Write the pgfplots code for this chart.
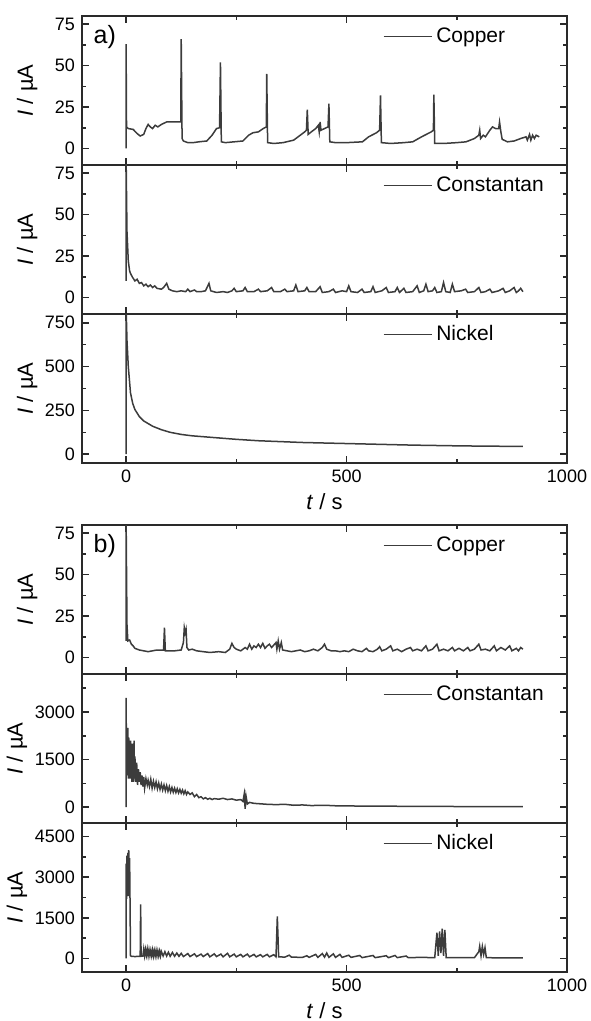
\documentclass[border=0pt]{standalone}
\usepackage{fontspec}
\setmainfont{Liberation Sans}
\usepackage{pgfplots}
\pgfplotsset{compat=1.18}

\definecolor{tracecol}{HTML}{3C3C3C}
\definecolor{framecol}{HTML}{2A2A2A}

\pgfplotsset{
  panel/.style={
    width=242.5pt, height=74.5pt, scale only axis,
    anchor=north west,
    xmin=-100, xmax=1000,
    xtick={0,500,1000}, minor xtick={250,750},
    xtick pos=both, ytick pos=both,
    xticklabel pos=lower, yticklabel pos=left,
    tick align=inside,
    major tick length=3.5pt, minor tick length=2pt,
    minor y tick num=1,
    axis line style={line width=0.9pt, framecol},
    every tick/.style={line width=0.8pt, framecol},
    tick label style={font=\fontsize{9}{10}\selectfont},
    /pgf/number format/assume math mode=true,
    /pgf/number format/1000 sep={},
    scaled ticks=false,
    ylabel={\textit{I} / µA},
    ylabel style={at={(axis description cs:-0.113,0.5)}, anchor=center,
      font=\fontsize{11}{13}\selectfont},
    xlabel style={at={(axis description cs:0.5,-0.262)}, anchor=center,
      font=\fontsize{11}{13}\selectfont},
    legend style={draw=none, fill=none, at={(0.62,0.86)}, anchor=west,
      inner sep=0pt, font=\fontsize{10.5}{12}\selectfont},
    legend image code/.code={\draw[#1, line width=0.6pt] (0pt,0pt) -- (24pt,0pt);},
  },
  inner/.style={xticklabels={}},
  lowest/.style={xlabel={\textit{t} / s}},
  widelabel/.style={ylabel style={at={(axis description cs:-0.134,0.5)}}},
  curve/.style={tracecol, line width=0.75pt, mark=none},
}

\begin{document}
\begin{tikzpicture}
\path[use as bounding box] (0pt,0pt) rectangle (295pt,-510.5pt);

% ---------- a) ----------
\begin{axis}[panel, inner, at={(41pt,-8pt)}, ymin=-10, ymax=80, ytick={0,25,50,75}]
\addplot[curve] coordinates {
(0,0)(0,63)(1,13)(5,12)(16,11.5)(25,9)(32,7.5)(40,8.5)(45,12)(50,14.5)(55,13)(60,12)
(66,14)(72,13)(80,14.5)(92,16)(110,16)(124,16)(125,66)(127,6)(130,4.5)(140,3.5)
(152,3.5)(165,4)(183,4.5)(195,8)(205,12)(212,12.5)(214,52)(216,4)(225,3.5)(245,4)
(265,4.5)(278,8)(288,9.5)(300,10)(311,12)(318,13)(319,45)(321,3.5)(335,3)(356,3.5)
(380,5)(395,8)(405,10)(409,11)(411,23.5)(413,8.5)(420,10)(430,12)(436,14)(438,10)
(440,16)(442,11)(450,12)(458,13)(460,27)(462,4)(475,3.5)(500,3.5)(536,4)(550,7)
(568,9.5)(575,11)(577,32)(579,3.5)(600,3)(630,3.5)(650,4)(670,7)(692,10)(697,11)
(698,32.5)(700,3)(720,3)(750,3.5)(771,4)(790,6)(800,8)(802,11)(804,6)(810,8)(815,7)
(825,11)(831,13)(838,12)(845,12)(847,16)(850,10)(853,5.5)(865,4)(880,4.5)(895,6)
(907,7)(910,5)(915,8.5)(918,5)(922,8)(926,6)(930,8)(937,7)
};
\addlegendentry{Copper}
\node[font=\fontsize{12.5}{14}\selectfont] at (rel axis cs:0.047,0.86) {a)};
\end{axis}

\begin{axis}[panel, inner, at={(41pt,-82.5pt)}, ymin=-10, ymax=80, ytick={0,25,50,75}]
\addplot[curve] coordinates {
(0,10)(0,85)(2,40)(5,22)(8,16)(10,14.5)(15,12)(20,10)(25,11)(30,8.5)(35,9)(40,7)
(45,8)(50,6.5)(55,7.5)(60,6)(65,7)(70,5.5)(80,5)(85,6)(92,8.5)(97,5)(105,4)(115,3.5)
(125,4)(135,3.5)(140,5)(145,3.5)(155,4.5)(160,3.5)(170,3.5)(180,4)(188,8.5)(192,4)
(205,3)(220,3.5)(230,3)(240,4)(245,5.5)(250,3.5)(265,4)(270,6)(275,3.5)(290,3.5)
(300,5)(305,3.5)(320,4)(330,6)(335,3.5)(350,3.5)(360,5)(365,3.5)(380,4)(385,7.5)
(390,3.5)(405,4)(410,6)(415,3.5)(430,3.5)(440,6.5)(445,3)(460,3.5)(470,5)(475,3)
(490,4)(500,3.5)(505,7)(510,3.5)(525,3)(535,5)(540,3)(555,3.5)(560,6.5)(565,3)
(580,4)(590,6)(595,3)(610,3.5)(615,6)(620,3)(630,5.5)(635,3)(650,3.5)(660,7)(665,3)
(675,4)(680,8)(685,3.5)(695,4)(700,6)(705,3)(715,3.5)(720,9)(725,3.5)(735,3)(740,8)
(745,3.5)(760,4)(770,5)(775,3)(790,3.5)(800,6)(805,3)(815,3.5)(825,5)(830,3)(845,4)
(855,5.5)(860,3)(870,4)(880,6)(885,3)(890,4)(895,5.5)(900,3.5)
};
\addlegendentry{Constantan}
\end{axis}

\begin{axis}[panel, lowest, at={(41pt,-157pt)}, ymin=-50, ymax=800, ytick={0,250,500,750}]
\addplot[curve] coordinates {
(0,0)(0,840)(2,650)(5,500)(10,350)(15,290)(20,255)(30,215)(40,190)(60,160)(80,140)
(100,125)(125,113)(150,105)(200,95)(250,85)(300,77)(350,72)(400,67)(450,64)(500,61)
(550,58)(600,55)(650,52)(700,50)(750,48)(800,46.5)(850,45.5)(900,45)
};
\addlegendentry{Nickel}
\end{axis}

% ---------- b) ----------
\begin{axis}[panel, inner, at={(41pt,-262.5pt)}, ymin=-10, ymax=80, ytick={0,25,50,75}]
\addplot[curve] coordinates {
(0,10)(0,85)(2,20)(4,10)(8,10.5)(12,8)(16,7)(20,5.5)(30,4.5)(40,4)(50,3.5)(60,4)
(70,4.5)(80,4.5)(85,4.5)(87,18)(89,4)(100,4)(110,4)(125,4.5)(130,9)(132,18)(134,15)
(136,17)(138,6)(142,4.5)(150,5)(160,4)(175,3.5)(190,3)(210,3.5)(225,3)(235,5)(240,8.5)
(245,6)(250,5)(260,4)(270,6)(275,5)(280,8)(285,5)(290,7)(295,6)(300,8)(305,6)(310,8.5)
(315,5.5)(320,7)(325,8)(330,6)(335,7.5)(340,9)(342,5)(345,10)(348,5)(352,9)(355,4.5)
(365,4)(375,3.5)(385,4)(395,4.5)(405,3.5)(415,4)(425,5)(435,4)(445,6)(450,8)(455,5)
(465,4)(475,4)(485,3.5)(495,4)(505,3.5)(515,5)(525,4)(535,3.5)(545,5.5)(550,4)
(560,3.5)(570,5)(575,6.5)(580,4)(590,5)(600,7)(605,4)(615,5)(625,3.5)(635,5)(645,6)
(650,4)(660,5)(670,4)(680,7)(685,4)(695,5)(705,8)(710,4)(720,5)(730,4)(740,6)(745,4)
(755,5.5)(765,4)(775,6)(780,4)(790,5)(800,8)(805,4.5)(815,5)(825,4)(835,7)(840,4)
(850,6)(860,4.5)(870,7)(875,4)(885,5.5)(890,4)(895,6)(900,5)
};
\addlegendentry{Copper}
\node[font=\fontsize{12.5}{14}\selectfont] at (rel axis cs:0.047,0.86) {b)};
\end{axis}

\begin{axis}[panel, inner, widelabel, at={(41pt,-337pt)}, ymin=-500, ymax=4200,
  ytick={0,1500,3000}, minor ytick={750,2250,3750}]
\addplot[curve] coordinates {
(0,0)(0,3450)(1,1200)(2,2000)(3,1000)(4,2500)(5,900)(6,2200)(7,1100)(8,1800)(9,900)
(10,2100)(11,1000)(12,1900)(13,800)(14,2000)(15,900)(16,1700)(17,800)(18,2100)(19,900)
(20,1600)(22,800)(24,1400)(26,700)(28,1200)(30,800)(32,1100)(34,700)(36,1000)(38,650)
(40,950)(42,600)(45,900)(48,700)(50,850)(53,650)(56,880)(59,600)(62,820)(65,620)
(68,800)(71,580)(74,760)(77,560)(80,730)(83,540)(86,700)(89,520)(92,680)(95,500)
(98,650)(101,480)(104,620)(107,470)(110,600)(113,460)(116,580)(119,450)(122,560)
(125,440)(128,540)(131,420)(134,520)(137,400)(140,480)(145,400)(150,450)(155,330)
(160,400)(165,300)(170,330)(175,260)(180,300)(185,250)(190,280)(195,240)(200,270)
(210,250)(220,280)(230,240)(240,260)(250,220)(260,240)(265,180)(268,420)(270,-50)
(272,350)(275,100)(280,150)(290,120)(300,110)(320,90)(340,80)(360,90)(380,60)(400,70)
(420,50)(450,60)(480,40)(500,40)(550,30)(600,30)(650,25)(700,25)(750,20)(800,20)
(850,20)(900,20)
};
\addlegendentry{Constantan}
\end{axis}

\begin{axis}[panel, lowest, widelabel, at={(41pt,-411.5pt)}, ymin=-500, ymax=5000,
  ytick={0,1500,3000,4500}, minor ytick={750,2250,3750}]
\addplot[curve] coordinates {
(0,0)(0,3500)(1,2200)(2,3800)(3,2500)(4,3900)(5,2300)(6,4000)(7,2600)(8,3700)(9,2000)
(10,100)(12,80)(20,70)(30,80)(32,80)(33,2000)(34,80)(38,90)(40,350)(42,100)(44,330)
(46,120)(48,340)(50,100)(52,320)(54,110)(56,300)(58,100)(60,310)(62,90)(64,290)(66,100)
(68,300)(70,90)(72,280)(74,100)(76,270)(78,90)(80,260)(84,90)(88,250)(92,90)(96,230)
(100,80)(105,220)(110,80)(115,200)(120,80)(125,190)(130,70)(140,180)(145,70)(155,170)
(160,70)(170,160)(175,70)(185,180)(190,60)(200,170)(205,70)(215,160)(220,60)(230,190)
(235,60)(245,160)(250,60)(260,150)(265,60)(275,160)(280,60)(290,150)(295,60)(305,140)
(310,60)(320,150)(325,60)(335,140)(340,60)(343,1550)(346,60)(360,50)(370,120)(375,50)
(400,40)(410,100)(415,40)(430,150)(435,40)(445,180)(450,50)(455,200)(460,40)(470,170)
(475,40)(485,150)(490,40)(505,120)(510,40)(530,110)(535,30)(560,110)(565,30)(590,100)
(595,30)(610,110)(615,30)(635,90)(640,30)(670,40)(700,30)(705,950)(708,100)(711,1000)
(714,200)(717,1100)(720,100)(723,1050)(726,30)(760,30)(790,30)(800,250)(802,450)
(805,100)(808,440)(811,150)(814,400)(817,30)(850,20)(900,20)
};
\addlegendentry{Nickel}
\end{axis}
\end{tikzpicture}
\end{document}
